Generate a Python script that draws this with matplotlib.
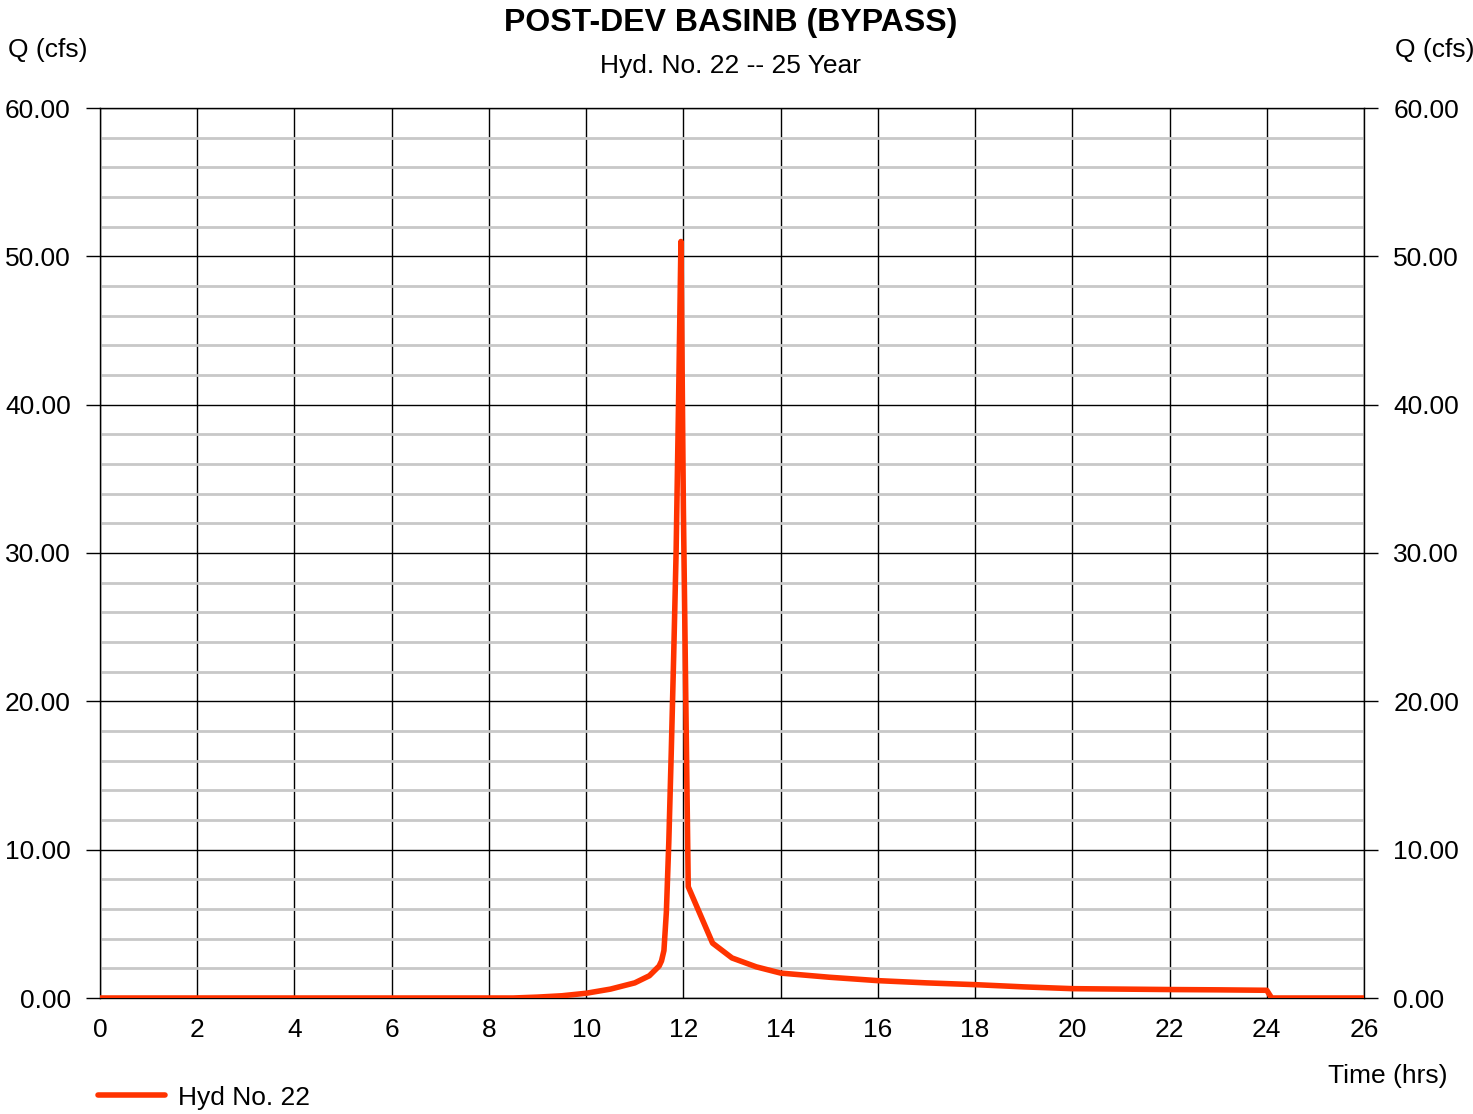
import matplotlib
matplotlib.use("Agg")
import matplotlib.pyplot as plt
from matplotlib.ticker import MultipleLocator, FormatStrFormatter

plt.rcParams['font.family'] = ['Liberation Sans', 'DejaVu Sans']

# Data (hours, cfs)
time_hrs = [0.0, 8.5, 9.0, 9.5, 10.0, 10.5, 11.0, 11.3, 11.5, 11.55, 11.6, 11.65,
            11.7, 11.75, 11.8, 11.85, 11.9, 11.95, 12.0, 12.05, 12.1, 12.6, 13.0,
            13.5, 14.0, 15.0, 16.0, 17.0, 18.0, 19.0, 20.0, 21.0, 22.0, 23.0,
            24.0, 24.1, 26.0]
flow_cfs = [0.0, 0.0, 0.06, 0.15, 0.32, 0.6, 1.02, 1.5, 2.15, 2.5, 3.2, 5.8,
            10.5, 16.5, 23.0, 30.0, 40.0, 51.0, 33.0, 20.0, 7.5, 3.7, 2.7,
            2.1, 1.68, 1.4, 1.17, 1.02, 0.9, 0.75, 0.63, 0.6, 0.57, 0.55,
            0.52, 0.0, 0.0]

x_ticks = list(range(0, 27, 2))
y_ticks = [0, 10, 20, 30, 40, 50, 60]

title = "POST-DEV BASINB (BYPASS)"
subtitle = "Hyd. No. 22 -- 25 Year"
line_color = "#FF3300"

fig = plt.figure(figsize=(14.73, 11.14), dpi=100)
ax = fig.add_axes([100/1473, 1-998/1114, 1264/1473, 890/1114])

ax.set_xlim(0, 26)
ax.set_ylim(0, 60)
ax.set_xticks(x_ticks)
ax.set_yticks(y_ticks)
ax.yaxis.set_minor_locator(MultipleLocator(2))
ax.yaxis.set_major_formatter(FormatStrFormatter('%.2f'))

ax.grid(which='minor', axis='y', color='#c8c8c8', linewidth=2.0, zorder=1)
ax.grid(which='major', axis='y', color='black', linewidth=1.0, zorder=2)
ax.grid(which='major', axis='x', color='black', linewidth=1.0, zorder=2)
ax.set_axisbelow(True)

for s in ax.spines.values():
    s.set_color('black')
    s.set_linewidth(1.0)

ax.tick_params(axis='y', which='major', left=True, right=True, labelleft=True,
               labelright=True, direction='out', length=10, width=1,
               pad=11, labelsize=19)
ax.tick_params(axis='y', which='minor', left=False, right=False)
ax.tick_params(axis='x', which='major', bottom=False, length=0, pad=14.5, labelsize=19)

ax.plot(time_hrs, flow_cfs, color=line_color, linewidth=4.0, zorder=5,
        solid_joinstyle='round', solid_capstyle='round')

dy = 2.5
fig.text(731/1473, 1-(20+dy)/1114, title, ha='center', va='center', fontsize=23,
         fontweight='bold')
fig.text(731/1473, 1-(64+dy)/1114, subtitle, ha='center', va='center', fontsize=19)
fig.text(8/1473, 1-(48+dy)/1114, "Q (cfs)", ha='left', va='center', fontsize=19)
fig.text(1395/1473, 1-(48+dy)/1114, "Q (cfs)", ha='left', va='center', fontsize=19)
fig.text(1448/1473, 1-(1073+dy)/1114, "Time (hrs)", ha='right', va='center', fontsize=19)

# legend
fig.add_artist(plt.Line2D([98/1473, 165/1473], [1-1095/1114, 1-1095/1114],
                          color=line_color, linewidth=4.0, solid_capstyle='round',
                          transform=fig.transFigure))
fig.text(178/1473, 1-(1096+dy)/1114, "Hyd No. 22", ha='left', va='center', fontsize=19)

fig.savefig("out.png", dpi=100)
